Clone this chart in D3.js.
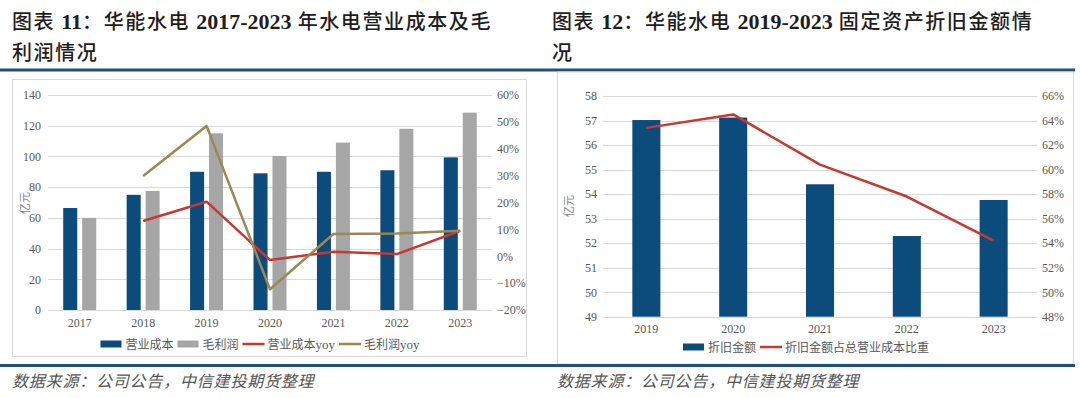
<!DOCTYPE html>
<html>
<head>
<meta charset="utf-8">
<script src="https://cdn.jsdelivr.net/npm/d3@7/dist/d3.min.js"></script>
<style>
  html, body { margin: 0; padding: 0; background: #fff; }
  svg { display: block; }
</style>
</head>
<body>
<svg width="1080" height="398"></svg>
<script>
// chart 11 data
const years1 = ["2017", "2018", "2019", "2020", "2021", "2022", "2023"];
const cost = [66.4, 75, 90, 89, 90, 91, 99.4];          // 营业成本, 亿元
const profit = [60, 77.5, 115, 100.3, 109, 118, 128.5];  // 毛利润, 亿元
const costYoy = [null, 0.131, 0.203, -0.014, 0.017, 0.008, 0.095];
const profitYoy = [null, 0.299, 0.485, -0.123, 0.083, 0.085, 0.095];
const ticks1L = [0, 20, 40, 60, 80, 100, 120, 140];
const ticks1R = [-0.2, -0.1, 0, 0.1, 0.2, 0.3, 0.4, 0.5, 0.6];

// chart 12 data
const years2 = ["2019", "2020", "2021", "2022", "2023"];
const depr = [57.02, 57.12, 54.4, 52.29, 53.76];         // 折旧金额, 亿元
const deprRatio = [0.634, 0.645, 0.604, 0.578, 0.542];  // 占总营业成本比重
const ticks2L = [49, 50, 51, 52, 53, 54, 55, 56, 57, 58];
const ticks2R = [0.48, 0.50, 0.52, 0.54, 0.56, 0.58, 0.60, 0.62, 0.64, 0.66];

const BLUE = "#0b4c7d", GREY = "#a6a6a6", RED = "#c8382f", GOLD = "#9d8752";
const GRID = "#d9d9d9", LABEL = "#595959";
const CJK = '"Noto Sans CJK SC", "Noto Sans", sans-serif';
const SERIF = '"Liberation Serif", "Times New Roman", serif';

const svg = d3.select("svg");

// ---------- page frame: titles, rules, sources ----------
function title(x, parts, y) {
    const t = svg.append("text").attr("x", x).attr("y", y)
        .attr("fill", "#1e1e1e").attr("font-size", 20);
    parts.forEach(p => {
        t.append("tspan")
            .attr("font-family", p.num ? SERIF : CJK)
            .attr("font-weight", p.num ? 700 : 500)
            .attr("font-size", p.num ? 22 : 20)
            .attr("letter-spacing", p.num ? 0 : 1.6)
            .text(p.s);
    });
}
title(12, [{s: "图表 "}, {s: "11", num: 1}, {s: "：华能水电 "}, {s: "2017-2023", num: 1},
    {s: " 年水电营业成本及毛"}], 29);
title(12, [{s: "利润情况"}], 60);
title(552, [{s: "图表 "}, {s: "12", num: 1}, {s: "：华能水电 "}, {s: "2019-2023", num: 1},
    {s: " 固定资产折旧金额情"}], 29);
title(552, [{s: "况"}], 60);

svg.append("rect").attr("x", 0).attr("y", 68.5).attr("width", 1075).attr("height", 3).attr("fill", "#1f5180");

svg.append("rect").attr("x", 12.5).attr("y", 79.5).attr("width", 514).attr("height", 277)
    .attr("fill", "none").attr("stroke", GRID);
svg.append("rect").attr("x", 557.5).attr("y", 72).attr("width", 516).attr("height", 292)
    .attr("fill", "none").attr("stroke", GRID);

svg.append("rect").attr("x", 0).attr("y", 364).attr("width", 1075).attr("height", 3).attr("fill", "#1f5180");

[12, 557].forEach(x => {
    svg.append("text").attr("x", x).attr("y", 387)
        .attr("font-family", CJK).attr("font-size", 16).attr("font-style", "italic")
        .attr("letter-spacing", 0.8).attr("fill", "#555")
        .text("数据来源：公司公告，中信建投期货整理");
});

// ---------- helpers ----------
function grid(g, y, ticks, x0, x1) {
    g.selectAll(null).data(ticks).enter().append("line")
        .attr("x1", x0).attr("x2", x1)
        .attr("y1", d => Math.round(y(d)) + 0.5).attr("y2", d => Math.round(y(d)) + 0.5)
        .attr("stroke", GRID).attr("stroke-width", 1);
}
function styleAxis(g) {
    g.select(".domain").remove();
    g.selectAll(".tick line").remove();
    g.selectAll("text").attr("font-family", SERIF).attr("font-size", 12).attr("fill", LABEL);
}
function legend(cx, y, items) {
    const g = svg.append("g");
    let x = 0;
    items.forEach(it => {
        if (it.kind === "bar") {
            g.append("rect").attr("x", x).attr("y", y - 3.5).attr("width", 21).attr("height", 7).attr("fill", it.color);
        } else {
            g.append("line").attr("x1", x).attr("x2", x + 22).attr("y1", y).attr("y2", y)
                .attr("stroke", it.color).attr("stroke-width", 2.5);
        }
        x += 25;
        const t = g.append("text").attr("x", x).attr("y", y + 4.5)
            .attr("font-family", CJK).attr("font-size", 12).attr("fill", LABEL);
        t.append("tspan").text(it.cn);
        if (it.en) t.append("tspan").attr("font-family", SERIF).attr("font-size", 13).text(it.en);
        x += t.node().getComputedTextLength() + 4;
    });
    g.attr("transform", `translate(${cx - (x - 4) / 2},0)`);
}

// ---------- chart 11 ----------
{
    const x = d3.scaleBand().domain(years1).range([48, 492]).paddingInner(0.48).paddingOuter(0.24);
    const x1 = d3.scaleBand().domain(["cost", "profit"]).range([0, x.bandwidth()]).paddingInner(0.26);
    const y = d3.scaleLinear().domain([0, 140]).range([310, 95]);
    const yR = d3.scaleLinear().domain([-0.2, 0.6]).range([310, 95]);
    const g = svg.append("g");

    grid(g, y, ticks1L, 48, 492);

    const series = [{k: "cost", v: cost, c: BLUE}, {k: "profit", v: profit, c: GREY}];
    series.forEach(s => {
        g.selectAll(null).data(years1).enter().append("rect")
            .attr("x", d => x(d) + x1(s.k))
            .attr("width", x1.bandwidth())
            .attr("y", (d, i) => y(s.v[i]))
            .attr("height", (d, i) => y(0) - y(s.v[i]))
            .attr("fill", s.c);
    });

    const line = d3.line().defined(d => d[1] !== null)
        .x(d => x(d[0]) + x.bandwidth() / 2).y(d => yR(d[1]));
    [[costYoy, RED], [profitYoy, GOLD]].forEach(([vals, c]) => {
        g.append("path").datum(years1.map((yr, i) => [yr, vals[i]]))
            .attr("d", line).attr("fill", "none").attr("stroke", c)
            .attr("stroke-width", 2.5).attr("stroke-linejoin", "round");
    });

    g.append("g").attr("transform", "translate(41,0)")
        .call(d3.axisLeft(y).tickValues(ticks1L).tickSize(0).tickPadding(0)).call(styleAxis);
    g.append("g").attr("transform", "translate(497,0)")
        .call(d3.axisRight(yR).tickValues(ticks1R).tickFormat(d3.format(".0%")).tickSize(0).tickPadding(0))
        .call(styleAxis);
    g.append("g").attr("transform", "translate(0,318)")
        .call(d3.axisBottom(x).tickSize(0).tickPadding(0)).call(styleAxis);

    g.append("text").attr("transform", "translate(29,203) rotate(-90)").attr("text-anchor", "middle")
        .attr("font-family", CJK).attr("font-size", 11).attr("fill", "#7f7f7f").text("亿元");

    legend(260, 344, [
        {kind: "bar", color: BLUE, cn: "营业成本"},
        {kind: "bar", color: GREY, cn: "毛利润"},
        {kind: "line", color: RED, cn: "营业成本", en: "yoy"},
        {kind: "line", color: GOLD, cn: "毛利润", en: "yoy"}
    ]);
}

// ---------- chart 12 ----------
{
    const x = d3.scaleBand().domain(years2).range([603, 1037]).paddingInner(0.677).paddingOuter(0.338);
    const y = d3.scaleLinear().domain([49, 58]).range([316.7, 96]);
    const yR = d3.scaleLinear().domain([0.48, 0.66]).range([316.7, 96]);
    const g = svg.append("g");

    grid(g, y, ticks2L, 603, 1037);

    g.selectAll(null).data(years2).enter().append("rect")
        .attr("x", d => x(d)).attr("width", x.bandwidth())
        .attr("y", (d, i) => y(depr[i]))
        .attr("height", (d, i) => y(49) - y(depr[i]))
        .attr("fill", BLUE);

    const line = d3.line().x(d => x(d[0]) + x.bandwidth() / 2).y(d => yR(d[1]));
    g.append("path").datum(years2.map((yr, i) => [yr, deprRatio[i]]))
        .attr("d", line).attr("fill", "none").attr("stroke", RED)
        .attr("stroke-width", 2.5).attr("stroke-linejoin", "round");

    g.append("g").attr("transform", "translate(597,0)")
        .call(d3.axisLeft(y).tickValues(ticks2L).tickSize(0).tickPadding(0)).call(styleAxis);
    g.append("g").attr("transform", "translate(1042,0)")
        .call(d3.axisRight(yR).tickValues(ticks2R).tickFormat(d3.format(".0%")).tickSize(0).tickPadding(0))
        .call(styleAxis);
    g.append("g").attr("transform", "translate(0,324)")
        .call(d3.axisBottom(x).tickSize(0).tickPadding(0)).call(styleAxis);

    g.append("text").attr("transform", "translate(573,206) rotate(-90)").attr("text-anchor", "middle")
        .attr("font-family", CJK).attr("font-size", 11).attr("fill", "#7f7f7f").text("亿元");

    legend(806, 347, [
        {kind: "bar", color: BLUE, cn: "折旧金额"},
        {kind: "line", color: RED, cn: "折旧金额占总营业成本比重"}
    ]);
}
</script>
</body>
</html>
